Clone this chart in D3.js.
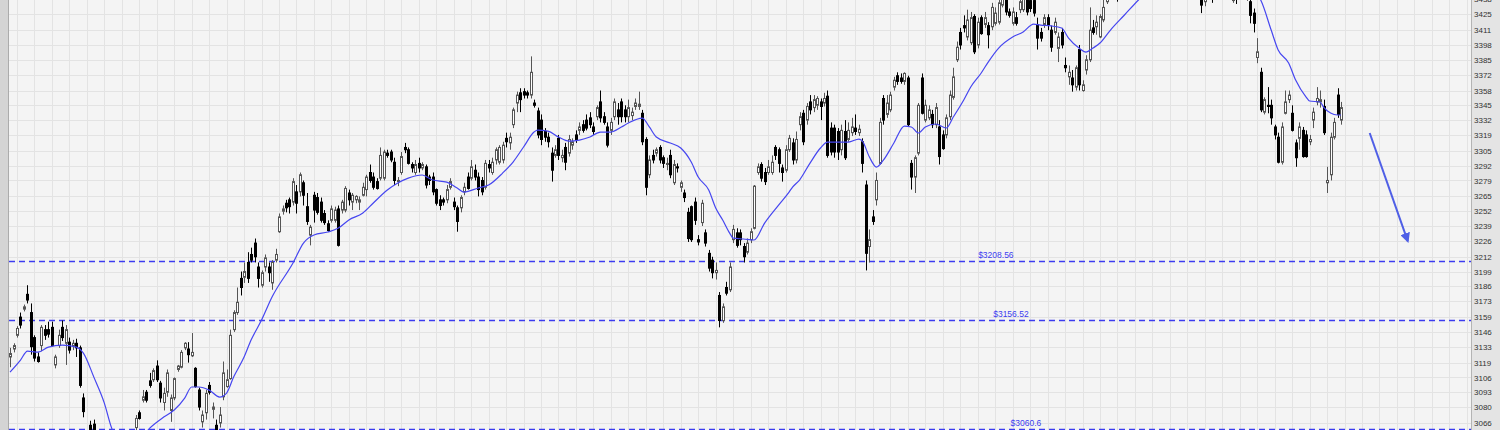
<!DOCTYPE html>
<html><head><meta charset="utf-8">
<script src="https://cdn.jsdelivr.net/npm/d3@7"></script>
<style>html,body{margin:0;padding:0;background:#f4f4f4;overflow:hidden;} svg{display:block;}</style>
</head><body><svg id="c" width="1500" height="430"></svg>
<script>
// OHLC rows: [open, high, low, close]
const candles = [
[3124,3132,3115,3127],[3131,3136,3128,3134],[3143,3151,3141,3149],[3159,3163,3149,3152],[3166,3170,3164,3168],
[3179,3187,3171,3174],[3163,3171,3126,3133],[3141,3143,3120,3123],[3124,3128,3119,3120],[3134,3152,3129,3150],
[3148,3152,3139,3143],[3148,3155,3141,3144],[3150,3155,3133,3134],[3117,3126,3114,3124],[3134,3148,3132,3143],
[3150,3156,3138,3141],[3136,3152,3117,3148],[3137,3141,3127,3130],[3134,3139,3130,3136],[3136,3140,3124,3132],
[3132,3134,3097,3099],[3088,3092,3071,3076],[3057,3059,3041,3044],[3064,3068,3051,3055],[3065,3069,3049,3053],
[3055,3058,3035,3041],[3038,3051,3032,3047],[3046,3049,3025,3029],[3031,3035,3018,3023],[3023,3042,3019,3038],
[3036,3049,3032,3044],[3042,3047,3026,3032],[3032,3051,3028,3045],[3044,3056,3041,3051],[3051,3056,3037,3042],
[3044,3058,3041,3054],[3062,3073,3058,3070],[3075,3077,3069,3070],[3086,3095,3084,3089],[3093,3095,3084,3086],
[3103,3110,3097,3099],[3104,3114,3102,3112],[3116,3121,3102,3104],[3101,3103,3084,3088],[3084,3097,3077,3092],
[3093,3113,3089,3110],[3077,3091,3067,3088],[3088,3106,3086,3105],[3113,3117,3111,3116],[3115,3130,3114,3128],
[3132,3137,3130,3136],[3131,3137,3119,3126],[3125,3145,3124,3128],[3114,3115,3097,3098],[3095,3097,3077,3080],
[3067,3077,3062,3073],[3075,3095,3069,3092],[3099,3102,3091,3093],[3078,3084,3070,3080],[3064,3069,3051,3058],
[3066,3080,3062,3073],[3089,3120,3086,3110],[3098,3113,3097,3104],[3105,3148,3104,3143],[3148,3165,3146,3163],
[3163,3185,3161,3172],[3193,3199,3178,3185],[3194,3207,3189,3199],[3207,3216,3189,3193],[3214,3220,3207,3209],
[3224,3228,3207,3212],[3203,3207,3185,3193],[3187,3200,3185,3198],[3203,3214,3199,3211],[3203,3207,3190,3198],
[3189,3209,3183,3207],[3209,3219,3207,3214],[3234,3250,3233,3247],[3252,3257,3249,3254],[3259,3262,3251,3255],
[3262,3264,3250,3256],[3260,3281,3257,3278],[3269,3275,3250,3259],[3269,3286,3265,3284],[3277,3279,3257,3266],
[3256,3268,3240,3243],[3231,3240,3222,3238],[3266,3269,3242,3253],[3264,3268,3249,3251],[3260,3264,3242,3244],
[3250,3253,3240,3242],[3241,3244,3234,3235],[3244,3257,3242,3254],[3244,3256,3242,3253],[3254,3257,3221,3222],
[3253,3262,3250,3260],[3253,3274,3251,3272],[3268,3271,3257,3262],[3260,3268,3253,3266],[3262,3266,3259,3265],
[3260,3265,3253,3262],[3266,3277,3265,3273],[3271,3284,3265,3282],[3286,3293,3277,3279],[3282,3286,3271,3273],
[3278,3281,3271,3272],[3281,3308,3279,3301],[3281,3306,3279,3304],[3303,3306,3299,3301],[3304,3306,3295,3297],
[3295,3299,3275,3279],[3278,3282,3274,3279],[3286,3304,3284,3300],[3308,3312,3303,3306],[3306,3308,3293,3294],
[3293,3295,3286,3290],[3286,3297,3284,3293],[3294,3299,3286,3290],[3290,3295,3288,3293],[3291,3293,3272,3275],
[3282,3284,3275,3279],[3282,3286,3266,3269],[3271,3272,3257,3259],[3262,3266,3253,3257],[3262,3264,3257,3260],
[3262,3275,3259,3271],[3273,3281,3271,3278],[3260,3264,3253,3256],[3255,3257,3234,3243],[3255,3266,3251,3264],
[3269,3277,3266,3273],[3282,3286,3271,3272],[3281,3297,3279,3291],[3288,3293,3279,3282],[3282,3286,3265,3271],
[3279,3282,3266,3269],[3273,3297,3271,3294],[3293,3297,3286,3290],[3286,3299,3284,3295],[3297,3308,3293,3306],
[3295,3310,3293,3308],[3297,3313,3294,3310],[3316,3321,3308,3313],[3312,3321,3306,3317],[3328,3343,3325,3341],
[3347,3357,3339,3354],[3356,3360,3339,3350],[3357,3360,3351,3354],[3356,3358,3351,3354],[3354,3388,3351,3374],
[3347,3350,3343,3345],[3340,3343,3316,3319],[3332,3337,3310,3315],[3322,3325,3313,3317],[3317,3321,3308,3313],
[3303,3308,3278,3288],[3301,3310,3299,3306],[3316,3319,3297,3301],[3299,3306,3295,3301],[3308,3312,3288,3295],
[3303,3319,3300,3315],[3310,3316,3306,3313],[3319,3323,3312,3315],[3323,3330,3319,3326],[3328,3332,3321,3323],
[3332,3337,3323,3325],[3334,3339,3325,3328],[3326,3330,3319,3322],[3335,3345,3332,3343],[3348,3358,3330,3334],
[3335,3339,3328,3330],[3326,3330,3308,3310],[3323,3334,3319,3330],[3335,3351,3332,3348],[3341,3347,3328,3335],
[3348,3351,3330,3335],[3341,3345,3330,3335],[3335,3350,3330,3343],[3336,3343,3332,3339],[3344,3351,3341,3347],
[3344,3357,3341,3346],[3338,3341,3310,3313],[3315,3317,3266,3273],[3284,3301,3281,3297],[3301,3306,3294,3297],
[3303,3308,3300,3306],[3308,3310,3294,3297],[3299,3301,3290,3294],[3293,3299,3288,3294],[3301,3306,3281,3284],
[3277,3297,3275,3293],[3291,3294,3286,3290],[3273,3279,3269,3277],[3268,3271,3260,3264],[3251,3255,3225,3228],
[3256,3257,3225,3227],[3260,3264,3240,3244],[3227,3231,3222,3225],[3242,3262,3239,3259],[3233,3236,3221,3224],
[3215,3218,3199,3202],[3209,3212,3193,3198],[3198,3207,3192,3200],[3178,3181,3150,3156],[3156,3171,3154,3168],
[3185,3190,3178,3180],[3183,3207,3181,3203],[3227,3240,3224,3236],[3233,3237,3220,3222],[3233,3236,3222,3227],
[3221,3224,3207,3212],[3216,3228,3214,3224],[3227,3237,3224,3234],[3237,3275,3236,3274],[3286,3294,3284,3291],
[3293,3295,3278,3281],[3286,3290,3275,3278],[3286,3297,3284,3291],[3286,3301,3284,3295],[3308,3310,3297,3301],
[3306,3308,3286,3294],[3290,3293,3278,3286],[3288,3310,3286,3306],[3306,3319,3304,3316],[3312,3316,3293,3297],
[3297,3322,3294,3315],[3328,3339,3323,3335],[3338,3341,3310,3313],[3332,3347,3328,3344],[3348,3354,3337,3341],
[3343,3354,3339,3350],[3345,3353,3341,3351],[3348,3351,3332,3344],[3347,3356,3344,3351],[3353,3358,3299,3301],
[3325,3330,3301,3304],[3325,3328,3299,3304],[3322,3325,3297,3304],[3306,3328,3301,3323],[3322,3332,3297,3299],
[3315,3330,3313,3323],[3321,3334,3318,3326],[3325,3337,3319,3322],[3321,3328,3318,3324],[3313,3316,3286,3294],
[3275,3279,3200,3215],[3221,3236,3207,3227],[3247,3253,3240,3243],[3262,3286,3257,3279],[3294,3334,3293,3330],
[3351,3354,3328,3332],[3337,3354,3334,3347],[3341,3357,3339,3354],[3361,3370,3358,3367],[3371,3374,3363,3366],
[3369,3373,3364,3366],[3366,3374,3363,3373],[3369,3371,3326,3328],[3294,3297,3271,3282],[3282,3301,3268,3299],
[3303,3347,3301,3345],[3369,3373,3337,3338],[3332,3350,3330,3345],[3334,3345,3332,3341],[3337,3341,3325,3328],
[3328,3347,3325,3343],[3326,3332,3293,3300],[3319,3323,3306,3307],[3319,3337,3316,3334],[3335,3358,3332,3354],
[3352,3378,3350,3370],[3385,3401,3383,3396],[3409,3413,3394,3398],[3415,3424,3409,3413],[3405,3429,3402,3420],
[3400,3427,3398,3422],[3423,3425,3390,3392],[3398,3422,3395,3418],[3422,3424,3407,3408],[3416,3427,3413,3422],
[3415,3418,3395,3407],[3414,3435,3411,3431],[3417,3431,3415,3426],[3418,3439,3416,3435],[3433,3445,3431,3440],
[3438,3442,3424,3427],[3427,3430,3422,3424],[3417,3431,3415,3427],[3422,3427,3415,3417],[3429,3440,3426,3436],
[3429,3443,3427,3439],[3439,3443,3424,3427],[3437,3442,3427,3430],[3437,3441,3423,3426],[3416,3422,3394,3404],
[3409,3413,3401,3404],[3416,3425,3413,3422],[3422,3425,3411,3416],[3411,3415,3392,3396],[3409,3422,3407,3418],
[3395,3409,3383,3405],[3409,3413,3395,3398],[3380,3387,3374,3378],[3370,3380,3363,3374],[3369,3376,3357,3363],
[3361,3380,3358,3378],[3394,3398,3358,3363],[3358,3367,3357,3363],[3376,3389,3372,3385],[3385,3431,3383,3411],
[3413,3420,3407,3409],[3414,3424,3407,3418],[3405,3425,3404,3423],[3420,3438,3418,3431],[3436,3446,3434,3442],
[3443,3452,3439,3449],[3449,3456,3443,3446],[3446,3450,3436,3441],[3441,3452,3439,3450],[3450,3460,3446,3457],
[3457,3463,3452,3455],[3455,3466,3451,3463],[3463,3470,3457,3460],[3460,3468,3455,3466],[3466,3474,3460,3470],
[3470,3476,3462,3465],[3465,3472,3459,3468],[3468,3480,3464,3476],[3476,3483,3469,3472],[3472,3478,3465,3474],
[3474,3485,3470,3481],[3481,3486,3472,3476],[3476,3482,3468,3471],[3471,3477,3463,3467],[3467,3475,3460,3462],
[3462,3470,3455,3466],[3466,3472,3458,3460],[3460,3466,3450,3455],[3455,3463,3448,3459],[3459,3465,3447,3450],
[3450,3458,3443,3446],[3448,3452,3426,3433],[3436,3450,3432,3447],[3447,3455,3441,3452],[3452,3458,3435,3440],
[3440,3453,3438,3450],[3450,3460,3445,3456],[3456,3462,3447,3451],[3451,3458,3443,3446],[3446,3452,3439,3444],
[3437,3450,3435,3446],[3446,3452,3434,3441],[3441,3455,3439,3450],[3450,3456,3440,3445],[3445,3452,3437,3441],
[3436,3442,3417,3424],[3426,3430,3409,3417],[3387,3404,3382,3392],[3374,3378,3339,3341],[3339,3352,3337,3350],
[3345,3361,3338,3344],[3345,3350,3328,3334],[3326,3328,3315,3319],[3317,3321,3294,3295],[3295,3330,3293,3326],
[3338,3358,3337,3348],[3350,3358,3347,3354],[3338,3345,3322,3323],[3312,3315,3291,3299],[3316,3330,3306,3326],
[3323,3326,3299,3300],[3319,3323,3299,3300],[3313,3319,3310,3315],[3332,3343,3325,3339],[3348,3361,3345,3351],
[3348,3358,3343,3350],[3344,3350,3319,3321],[3277,3291,3268,3279],[3284,3321,3279,3317],[3317,3334,3315,3330],
[3354,3360,3334,3337],[3332,3348,3328,3343]
];

// moving average line, read at these candle indices
const maIdx = [0,3,5,8,11,15,19,21,24,27,29,32,36,40,44,47,50,52,54,57,60,62,64,67,69,72,75,81,84,87,91,94,97,101,104,108,111,114,118,121,125,128,130,134,137,141,144,147,150,151,154,157,160,163,166,169,172,175,177,181,183,185,189,192,195,197,200,202,204,206,207,210,213,216,220,223,224,226,229,232,234,237,240,243,244,246,248,250,253,256,258,260,262,265,268,270,273,275,278,280,283,287,290,293,295,298,301,303,306,308,310,312,315,319,323,329,341,352,358,361,363,366,368,371,372,375,376,378,380,381];
const maVal = [3110.7,3121.3,3129.2,3128.3,3132.7,3134.4,3132.7,3127.4,3106.3,3083.5,3062.4,3045,3047,3061.5,3071.2,3077.4,3087.9,3097.6,3097.6,3094.9,3088.8,3092.3,3106.3,3123.9,3138.8,3156.4,3176.6,3206.5,3224.0,3231.1,3233.7,3237.2,3244.3,3250.4,3259.2,3270.6,3276.8,3281.1,3283.8,3279.4,3277.6,3272.4,3268.8,3272.4,3275.0,3285.5,3295.2,3308.4,3321.5,3323.3,3322.4,3317.2,3313.6,3314.5,3317.2,3321.5,3321.5,3325.9,3329.5,3333.8,3326.0,3317.2,3311.9,3307.5,3295.2,3282.0,3270.6,3254.8,3244.3,3232.8,3228.4,3227.6,3226.7,3241.6,3257.4,3268.8,3273.2,3279.4,3294.3,3307.5,3312.7,3312.7,3312.7,3315.4,3313.6,3299.6,3290.8,3296.9,3311.9,3326.8,3326.0,3320.7,3326.0,3328.6,3325.1,3334.7,3349.7,3361.1,3373.4,3383.0,3395.3,3405.0,3409.4,3416.4,3415.5,3414.7,3412.9,3404.1,3395.3,3391.8,3395.3,3399.7,3411.1,3424.3,3437.5,3455,3468,3455,3437.5,3411.1,3393.6,3382.2,3367.2,3352.3,3348.8,3347.9,3343.5,3338.2,3336.5,3336.5];

const tickLabels = [3066,3080,3093,3106,3119,3133,3146,3159,3173,3186,3199,3212,3226,3239,3252,3265,3279,3292,3305,3319,3332,3345,3358,3372,3385,3398,3411,3425,3438];
const levels = [3208.56, 3156.52, 3060.6];
const levelLabels = ["$3208.56", "$3156.52", "$3060.6"];
const levelLabelIdx = [282.2, 286.5, 290.8];
const arrowFrom = [389.2, 3320.7];
const arrowTo = [400.1, 3225.8];

const plotL = 9, plotR = 1471, H = 430;
const svg = d3.select("#c");
const x = d3.scaleLinear().domain([-0.29, 418.2]).range([plotL, plotR]);
const y = d3.scaleLinear().domain([3059.85, 3437.5]).range([H, 0]);

svg.append("defs").call(d => {
  d.append("clipPath").attr("id","clip").append("rect").attr("x",plotL).attr("y",0).attr("width",plotR-plotL).attr("height",H);
  d.append("marker").attr("id","ah").attr("viewBox","0 0 10 10").attr("refX",8).attr("refY",5)
   .attr("markerWidth",5).attr("markerHeight",5).attr("orient","auto")
   .append("path").attr("d","M0,0 L10,5 L0,10 Z").attr("fill","#4f5fe6");
});

// backgrounds
svg.append("rect").attr("x",0).attr("y",0).attr("width",1500).attr("height",H).attr("fill","#f4f4f4");
svg.append("rect").attr("x",0).attr("y",0).attr("width",plotL).attr("height",H).attr("fill","#d4d4d4");
svg.append("line").attr("x1",plotL-0.5).attr("x2",plotL-0.5).attr("y1",0).attr("y2",H).attr("stroke","#ababab");
svg.append("rect").attr("x",plotR).attr("y",0).attr("width",1500-plotR).attr("height",H).attr("fill","#e4e4e4");
svg.append("line").attr("x1",plotR+0.5).attr("x2",plotR+0.5).attr("y1",0).attr("y2",H).attr("stroke","#b4b4b4");

const plot = svg.append("g").attr("clip-path","url(#clip)");

// grid
const vIdx = d3.range(2, 420, 5);
plot.selectAll("line.vg").data(vIdx).enter().append("line")
  .attr("x1",d=>Math.round(x(d))+0.5).attr("x2",d=>Math.round(x(d))+0.5)
  .attr("y1",0).attr("y2",H).attr("stroke","#e3e3e3");
plot.selectAll("line.hg").data(tickLabels).enter().append("line")
  .attr("x1",plotL).attr("x2",plotR)
  .attr("y1",d=>Math.round(y(d))+0.5).attr("y2",d=>Math.round(y(d))+0.5).attr("stroke","#e3e3e3");

// level lines
plot.selectAll("line.lv").data(levels).enter().append("line")
  .attr("x1",plotL).attr("x2",plotR)
  .attr("y1",d=>Math.round(y(d))+0.5).attr("y2",d=>Math.round(y(d))+0.5)
  .attr("stroke","#3c3cf0").attr("stroke-width",1.3).attr("stroke-dasharray","6,4");
plot.selectAll("text.lv").data(levels).enter().append("text")
  .attr("x",(d,i)=>x(levelLabelIdx[i])).attr("y",d=>y(d)-3)
  .attr("text-anchor","middle").attr("font-family","Liberation Sans, Arial, sans-serif")
  .attr("font-size",8.5).attr("fill","#3c3cf0").text((d,i)=>levelLabels[i]);

// candles
const cg = plot.append("g");
candles.forEach((c,i) => {
  const [o,h,l,cl] = c;
  const px = Math.round(x(i));
  const up = cl >= o;
  const col = up ? "#555" : "#000";
  cg.append("line").attr("x1",px+0.5).attr("x2",px+0.5).attr("y1",y(h)).attr("y2",y(l)).attr("stroke",col).attr("stroke-width",1);
  const top = y(Math.max(o,cl)), bot = y(Math.min(o,cl));
  if (up) {
    cg.append("rect").attr("x",px-0.5).attr("y",top).attr("width",2).attr("height",Math.max(bot-top,1))
      .attr("fill","#fff").attr("stroke",col).attr("stroke-width",1);
  } else {
    cg.append("rect").attr("x",px-1).attr("y",top-0.5).attr("width",3).attr("height",Math.max(bot-top+1,1.5))
      .attr("fill","#000");
  }
});

// moving average
const maPts = maIdx.map((d,i)=>[d, maVal[i]]);
plot.append("path").datum(maPts)
  .attr("d", d3.line().x(d=>x(d[0])).y(d=>y(d[1])).curve(d3.curveMonotoneX))
  .attr("fill","none").attr("stroke","#4646f0").attr("stroke-width",1.2);

// arrow
plot.append("line").attr("x1",x(arrowFrom[0])).attr("y1",y(arrowFrom[1]))
  .attr("x2",x(arrowTo[0])).attr("y2",y(arrowTo[1]))
  .attr("stroke","#4f5fe6").attr("stroke-width",2).attr("marker-end","url(#ah)");

// axis
const ax = d3.axisRight(y).tickValues(tickLabels).tickSize(0).tickPadding(0).tickFormat(d3.format("d"));
const axg = svg.append("g").attr("transform",`translate(${plotR+3},0)`).call(ax);
axg.select(".domain").remove();
axg.selectAll("text").attr("font-family","Liberation Sans, Arial, sans-serif").attr("font-size",8).attr("fill","#333");
</script></body></html>
